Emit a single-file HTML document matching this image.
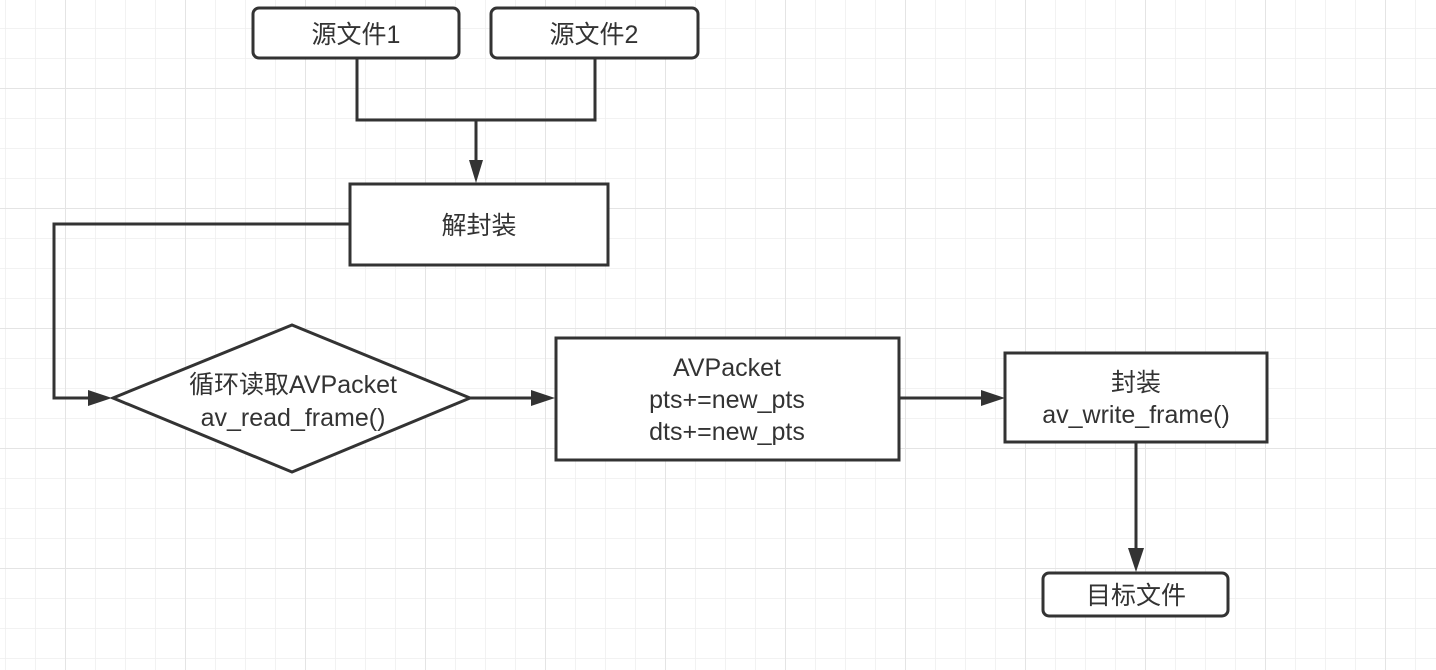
<!DOCTYPE html>
<html><head><meta charset="utf-8"><style>
html,body{margin:0;padding:0;background:#fff;}
svg{display:block}
text{font-family:"Liberation Sans","Noto Sans CJK SC",sans-serif;font-size:25px;fill:#333;text-anchor:middle;}
</style></head><body>
<svg width="1436" height="670" viewBox="0 0 1436 670" xmlns="http://www.w3.org/2000/svg">
<defs>
<pattern id="g" x="5" y="28" width="30" height="30" patternUnits="userSpaceOnUse">
<path d="M0 0V30M0 0H30" stroke="#eeeeee" stroke-width="1.5" fill="none"/>
</pattern>
<pattern id="G" x="65" y="88" width="120" height="120" patternUnits="userSpaceOnUse">
<path d="M0 0V120M0 0H120" stroke="#e4e4e4" stroke-width="2" fill="none"/>
</pattern>
</defs>
<rect width="1436" height="670" fill="url(#g)"/>
<rect width="1436" height="670" fill="url(#G)"/>
<g stroke="#333" stroke-width="3" fill="none">
<path d="M357 58V120H595V58"/>
<path d="M476 120V162"/>
<path d="M350 224H54V398H92"/>
<path d="M470 398H535"/>
<path d="M899 398H985"/>
<path d="M1136 442V552"/>
</g>
<g fill="#333">
<path d="M469 160L483 160L476 183Z"/>
<path d="M88 390L88 406L112 398Z"/>
<path d="M531 390L531 406L555 398Z"/>
<path d="M981 390L981 406L1005 398Z"/>
<path d="M1128 548L1144 548L1136 572Z"/>
</g>
<g stroke="#333" stroke-width="3" fill="#fff">
<rect x="253" y="8" width="206" height="50" rx="6"/>
<rect x="491" y="8" width="207" height="50" rx="6"/>
<rect x="350" y="184" width="258" height="81"/>
<path d="M113 398L292 325L470 398L292 472Z"/>
<rect x="556" y="338" width="343" height="122"/>
<rect x="1005" y="353" width="262" height="89"/>
<rect x="1043" y="573" width="185" height="43" rx="6"/>
</g>
<text x="356" y="43">源文件1</text>
<text x="594" y="43">源文件2</text>
<text x="479" y="234">解封装</text>
<text x="293" y="393">循环读取AVPacket</text>
<text x="293" y="426">av_read_frame()</text>
<text x="727" y="376">AVPacket</text>
<text x="727" y="408">pts+=new_pts</text>
<text x="727" y="440">dts+=new_pts</text>
<text x="1136" y="391">封装</text>
<text x="1136" y="423">av_write_frame()</text>
<text x="1136" y="604">目标文件</text>
</svg>
</body></html>
